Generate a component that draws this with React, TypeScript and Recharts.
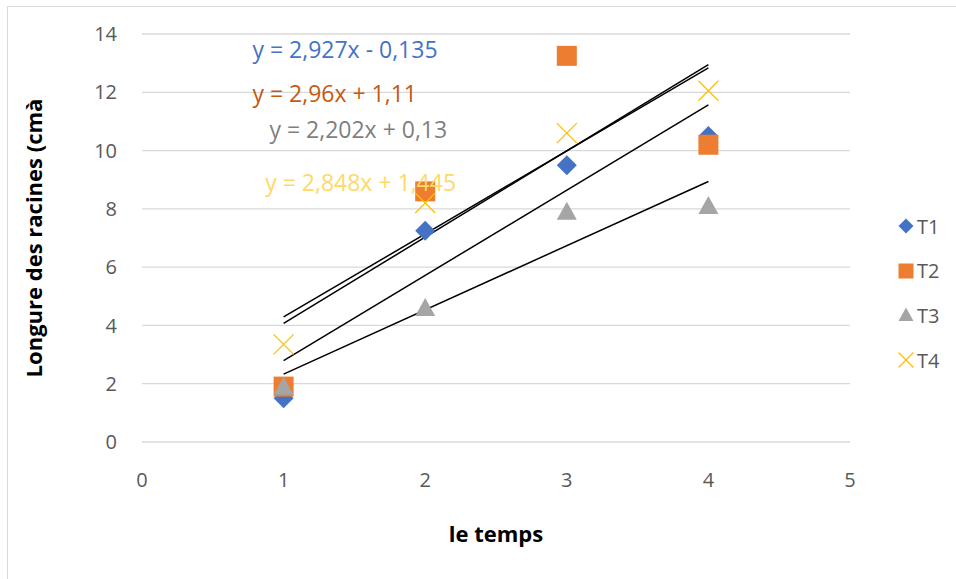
import React from "react";
import {
	ScatterChart,
	Scatter,
	XAxis,
	YAxis,
	CartesianGrid,
	ReferenceLine,
	ReferenceDot,
} from "recharts";

const times = [1, 2, 3, 4];
const t1 = [1.5, 7.25, 9.5, 10.5];
const t2 = [1.9, 8.6, 13.25, 10.2];
const t3 = [1.9, 4.6, 7.9, 8.1];
const t4 = [3.35, 8.2, 10.6, 12.05];

// trendline ends at x = 1 and x = 4 (taken from the equations on the chart)
const trendStart = [2.79, 4.07, 2.33, 4.29];
const trendEnd = [11.57, 12.95, 8.94, 12.84];

const equations = [
	"y = 2,927x - 0,135",
	"y = 2,96x + 1,11",
	"y = 2,202x + 0,13",
	"y = 2,848x + 1,445",
];
const eqX = [0.78, 0.78, 0.9, 0.87];
const eqY = [13.45, 11.95, 10.72, 8.9];

const seriesNames = ["T1", "T2", "T3", "T4"];
const colors = ["#4472C4", "#ED7D31", "#A5A5A5", "#FFC000"];
const eqColors = ["#4472C4", "#C55A11", "#7F7F7F", "#FFD966"];

const xTicks = [0, 1, 2, 3, 4, 5];
const yTicks = [0, 2, 4, 6, 8, 10, 12, 14];

const FONT = "'Open Sans', sans-serif";

const toPoints = (vals: number[]) => times.map((t, i) => ({ x: t, y: vals[i] }));
const allSeries = [t1, t2, t3, t4].map(toPoints);

const Marker = ({ kind, cx, cy, s = 10 }: { kind: number; cx: number; cy: number; s?: number }) => {
	if (kind === 0)
		return (
			<polygon
				points={`${cx},${cy - s} ${cx + s},${cy} ${cx},${cy + s} ${cx - s},${cy}`}
				fill={colors[0]}
			/>
		);
	if (kind === 1)
		return <rect x={cx - s} y={cy - s} width={2 * s} height={2 * s} fill={colors[1]} />;
	if (kind === 2)
		return (
			<polygon
				points={`${cx},${cy - s} ${cx + s},${cy + s * 0.8} ${cx - s},${cy + s * 0.8}`}
				fill={colors[2]}
			/>
		);
	return (
		<g stroke={colors[3]} strokeWidth={1.3}>
			<line x1={cx - s} y1={cy - s} x2={cx + s} y2={cy + s} />
			<line x1={cx - s} y1={cy + s} x2={cx + s} y2={cy - s} />
		</g>
	);
};

const YTitle = ({ viewBox }: any) => {
	const x = viewBox.x + 26;
	const y = viewBox.y + viewBox.height / 2;
	return (
		<text
			x={x}
			y={y}
			transform={`rotate(-90, ${x}, ${y})`}
			textAnchor="middle"
			dominantBaseline="central"
			fontFamily={FONT}
			fontWeight="bold"
			fontSize={22}
			fill="#000"
		>
			Longure des racines (cmà
		</text>
	);
};

const XTitle = ({ viewBox }: any) => (
	<text
		x={viewBox.x + viewBox.width / 2}
		y={viewBox.y + 91}
		textAnchor="middle"
		dominantBaseline="central"
		fontFamily={FONT}
		fontWeight="bold"
		fontSize={22}
		fill="#000"
	>
		le temps
	</text>
);

const LegendIcon = ({ kind }: { kind: number }) => (
	<svg width={20} height={20} style={{ display: "block" }}>
		<Marker kind={kind} cx={10} cy={10} s={7.5} />
	</svg>
);

export default function App() {
	return (
		<div style={{ position: "absolute", left: 0, top: 0, width: 956, height: 579, background: "#fff" }}>
			<div
				style={{
					position: "absolute",
					left: 7,
					top: 6,
					width: 960,
					height: 590,
					border: "1px solid #D9D9D9",
				}}
			/>
			<ScatterChart
				width={956}
				height={579}
				margin={{ top: 34, right: 106, left: 7, bottom: 7 }}
			>
				<CartesianGrid vertical={false} stroke="#D9D9D9" strokeWidth={1.3} />
				<XAxis
					type="number"
					dataKey="x"
					domain={[0, 5]}
					ticks={xTicks}
					height={130}
					axisLine={false}
					tickLine={false}
					tickMargin={25}
					tick={{ fill: "#595959", fontSize: 20, fontFamily: FONT }}
					label={<XTitle />}
				/>
				<YAxis
					type="number"
					dataKey="y"
					domain={[0, 14]}
					ticks={yTicks}
					width={135}
					axisLine={false}
					tickLine={false}
					tickMargin={19}
					tick={{ fill: "#595959", fontSize: 20, fontFamily: FONT }}
					label={<YTitle />}
				/>
				{allSeries.map((pts, i) => (
					<Scatter
						key={seriesNames[i]}
						name={seriesNames[i]}
						data={pts}
						isAnimationActive={false}
						shape={(p: any) => <Marker kind={i} cx={p.cx} cy={p.cy} />}
					/>
				))}
				{trendStart.map((s, i) => (
					<ReferenceLine
						key={"trend" + i}
						segment={[
							{ x: times[0], y: s },
							{ x: times[times.length - 1], y: trendEnd[i] },
						]}
						stroke="#000"
						strokeWidth={1.5}
					/>
				))}
				{equations.map((eq, i) => (
					<ReferenceDot
						key={"eq" + i}
						x={eqX[i]}
						y={eqY[i]}
						r={0}
						stroke="none"
						fill="none"
						label={{
							value: eq,
							position: "right",
							offset: 0,
							fill: eqColors[i],
							fontSize: 23,
							fontFamily: FONT,
						}}
					/>
				))}
			</ScatterChart>
			<div
				style={{
					position: "absolute",
					left: 896,
					top: 204,
					fontFamily: FONT,
					fontSize: 20,
					color: "#595959",
				}}
			>
				{seriesNames.map((n, i) => (
					<div
						key={n}
						style={{ display: "flex", alignItems: "center", height: 44.6 }}
					>
						<LegendIcon kind={i} />
						<span style={{ marginLeft: 1 }}>{n}</span>
					</div>
				))}
			</div>
		</div>
	);
}
